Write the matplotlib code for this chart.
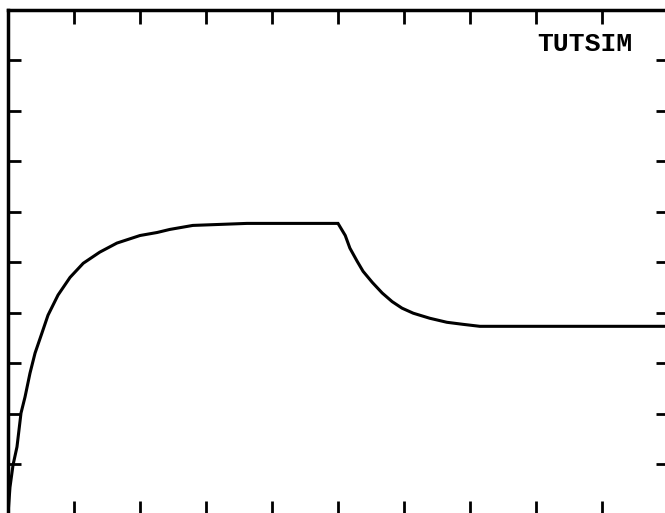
import matplotlib
matplotlib.use("Agg")
import matplotlib.pyplot as plt

# Time (s) and output values
t_vals = [0.0, 0.03, 0.076, 0.136, 0.197, 0.258, 0.333, 0.41, 0.515, 0.606, 0.758,
          0.94, 1.14, 1.39, 1.65, 2.0, 2.26, 2.45, 2.8, 3.62, 5.0,
          5.11, 5.18, 5.29, 5.38, 5.52, 5.67, 5.82, 5.97, 6.14, 6.39, 6.65,
          6.89, 7.15, 10.0]
y_vals = [0.0, 0.54, 0.98, 1.34, 2.01, 2.33, 2.80, 3.20, 3.60, 3.95, 4.35,
          4.70, 4.98, 5.20, 5.38, 5.53, 5.59, 5.65, 5.73, 5.77, 5.77,
          5.53, 5.28, 5.02, 4.82, 4.60, 4.39, 4.22, 4.09, 3.99, 3.89, 3.81,
          3.77, 3.73, 3.73]
x_ticks = list(range(0, 11))
y_ticks = list(range(0, 11))
title_text = "TUTSIM"

W, H = 665, 513
fig = plt.figure(figsize=(W / 100, H / 100), dpi=100)
left, right = 8, 668
top, bottom = 10, 514.5
ax = fig.add_axes([left / W, 1 - bottom / H, (right - left) / W, (bottom - top) / H])

ax.plot(t_vals, y_vals, color="black", lw=2.2, solid_joinstyle="miter")
ax.set_xlim(0, 10)
ax.set_ylim(0, 10)
ax.set_xticks(x_ticks)
ax.set_yticks(y_ticks)
ax.tick_params(axis="both", direction="in", width=2.0, color="black",
               top=True, right=True, bottom=True, left=True,
               labelbottom=False, labelleft=False)
ax.tick_params(axis="x", length=10)
ax.tick_params(axis="y", which="major", left=True, length=9)
for s in ax.spines.values():
    s.set_linewidth(2.5)
    s.set_color("black")

fig.text(585 / W, 1 - 44 / H, title_text, fontsize=19, fontweight="bold",
         family=["Liberation Mono", "DejaVu Sans Mono"], ha="center", va="center",
         color="black")

fig.savefig("out.png", dpi=100)
